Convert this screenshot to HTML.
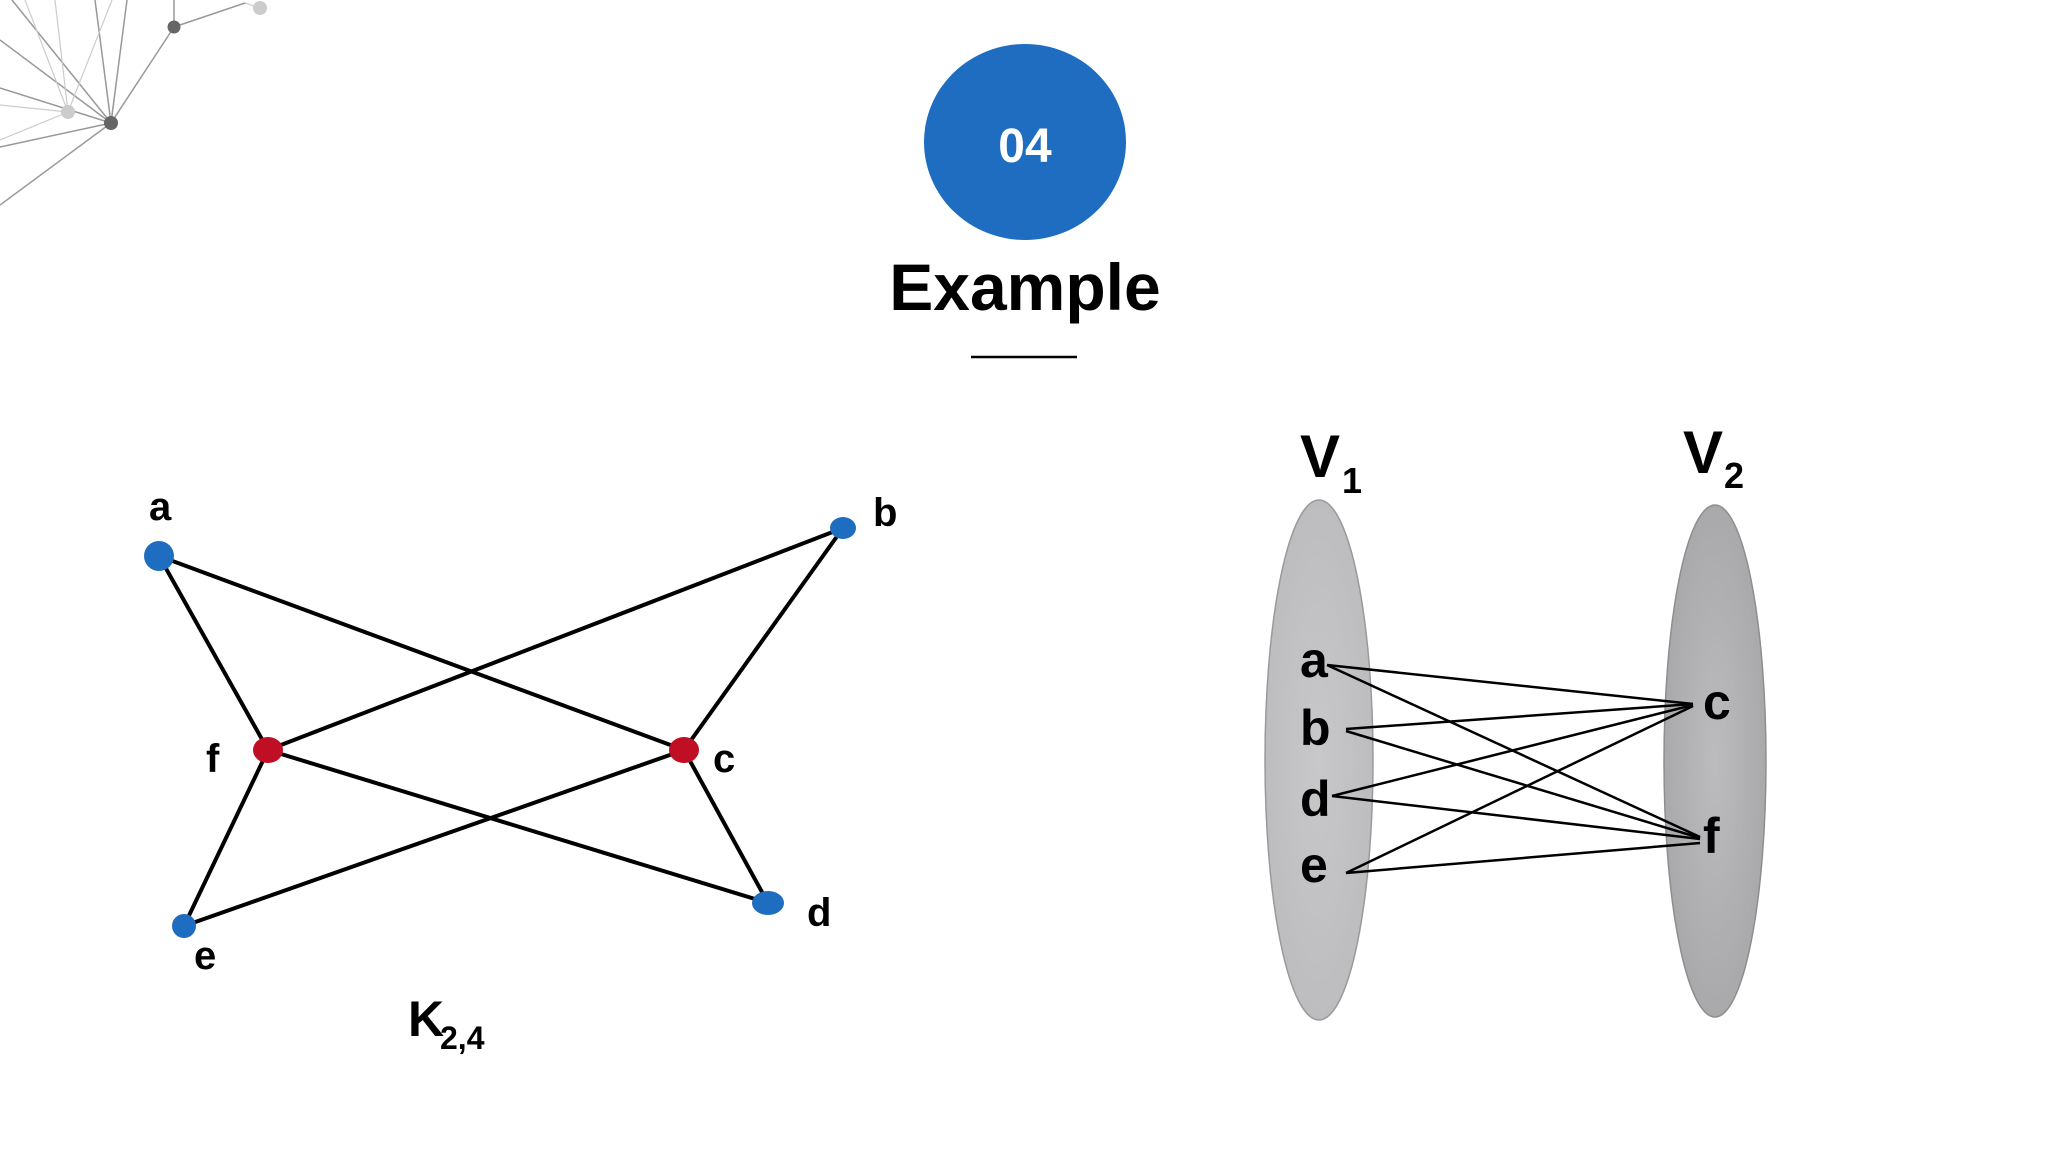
<!DOCTYPE html>
<html><head><meta charset="utf-8"><style>
html,body{margin:0;padding:0;background:#fff;width:2048px;height:1152px;overflow:hidden}
svg{display:block}
text{font-family:"Liberation Sans",sans-serif;font-weight:bold}
</style></head><body>
<svg width="2048" height="1152" viewBox="0 0 2048 1152" xmlns="http://www.w3.org/2000/svg">
<defs>
<radialGradient id="g1" cx="0.5" cy="0.5" r="0.5"><stop offset="0" stop-color="#c8c8ca"/><stop offset="1" stop-color="#bdbdbf"/></radialGradient>
<radialGradient id="g2" cx="0.5" cy="0.5" r="0.5"><stop offset="0" stop-color="#bcbcbe"/><stop offset="1" stop-color="#a9a9ab"/></radialGradient>
</defs>
<g stroke="#999" stroke-width="1.5" fill="none">
<line x1="111" y1="123" x2="0" y2="40"/>
<line x1="111" y1="123" x2="12" y2="0"/>
<line x1="111" y1="123" x2="95" y2="0"/>
<line x1="111" y1="123" x2="127" y2="0"/>
<line x1="111" y1="123" x2="0" y2="88"/>
<line x1="111" y1="123" x2="0" y2="147"/>
<line x1="111" y1="123" x2="0" y2="205"/>
<line x1="111" y1="123" x2="174" y2="27"/>
<line x1="174" y1="27" x2="174" y2="0"/>
<line x1="174" y1="27" x2="245" y2="3"/>
</g>
<g stroke="#ccc" stroke-width="1.2" fill="none">
<line x1="68" y1="112" x2="0" y2="105"/>
<line x1="68" y1="112" x2="25" y2="0"/>
<line x1="68" y1="112" x2="55" y2="0"/>
<line x1="68" y1="112" x2="112" y2="0"/>
<line x1="68" y1="112" x2="0" y2="140"/>
<line x1="245" y1="3" x2="260" y2="8"/>
</g>
<circle cx="68" cy="112" r="7" fill="#ccc"/>
<circle cx="111" cy="123" r="7" fill="#666"/>
<circle cx="174" cy="27" r="6.5" fill="#666"/>
<circle cx="260" cy="8" r="7" fill="#ccc"/>

<ellipse cx="1025" cy="142" rx="101" ry="98" fill="#1f6dc1"/>
<text x="1025" y="162" font-size="48" fill="#fff" text-anchor="middle">04</text>
<text x="1025" y="310" font-size="66" fill="#000" text-anchor="middle">Example</text>
<line x1="971" y1="357" x2="1077" y2="357" stroke="#000" stroke-width="2.5"/>

<g stroke="#000" stroke-width="4">
<line x1="159" y1="556" x2="268" y2="750"/>
<line x1="159" y1="556" x2="684" y2="750"/>
<line x1="843" y1="528" x2="268" y2="750"/>
<line x1="843" y1="528" x2="684" y2="750"/>
<line x1="268" y1="750" x2="768" y2="903"/>
<line x1="268" y1="750" x2="184" y2="926"/>
<line x1="684" y1="750" x2="184" y2="926"/>
<line x1="684" y1="750" x2="768" y2="903"/>
</g>
<ellipse cx="159" cy="556" rx="15" ry="15" fill="#1f6dc1"/>
<ellipse cx="843" cy="528" rx="13" ry="11" fill="#1f6dc1"/>
<ellipse cx="184" cy="926" rx="12" ry="12" fill="#1f6dc1"/>
<ellipse cx="768" cy="903" rx="16" ry="12" fill="#1f6dc1"/>
<ellipse cx="268" cy="750" rx="15" ry="13" fill="#c00f25"/>
<ellipse cx="684" cy="750" rx="15" ry="13" fill="#c00f25"/>
<g font-size="40" fill="#000">
<text x="149" y="520">a</text>
<text x="873" y="526">b</text>
<text x="206" y="772">f</text>
<text x="713" y="772">c</text>
<text x="194" y="969">e</text>
<text x="807" y="926">d</text>
</g>
<text x="408" y="1036" font-size="50" fill="#000">K</text>
<text x="440" y="1049" font-size="32" fill="#000">2,4</text>

<ellipse cx="1319" cy="760" rx="54" ry="260" fill="url(#g1)" stroke="#9a9a9a" stroke-width="1.5"/>
<ellipse cx="1715" cy="761" rx="51" ry="256" fill="url(#g2)" stroke="#8e8e8e" stroke-width="1.5"/>
<text x="1300" y="477" font-size="60" fill="#000">V</text>
<text x="1342" y="493" font-size="36" fill="#000">1</text>
<text x="1683" y="473" font-size="60" fill="#000">V</text>
<text x="1724" y="488" font-size="36" fill="#000">2</text>
<g font-size="50" fill="#000">
<text x="1300" y="677">a</text>
<text x="1300" y="745">b</text>
<text x="1300" y="816">d</text>
<text x="1300" y="882">e</text>
<text x="1703" y="719">c</text>
<text x="1703" y="853">f</text>
</g>
<g stroke="#000" stroke-width="2.5">
<line x1="1327" y1="665" x2="1693" y2="704"/>
<line x1="1327" y1="665" x2="1700" y2="837"/>
<line x1="1346" y1="729" x2="1693" y2="704"/>
<line x1="1346" y1="731" x2="1700" y2="838"/>
<line x1="1332" y1="796" x2="1693" y2="705"/>
<line x1="1332" y1="796" x2="1700" y2="839"/>
<line x1="1346" y1="873" x2="1693" y2="706"/>
<line x1="1346" y1="873" x2="1700" y2="843"/>
</g>
</svg>
</body></html>
